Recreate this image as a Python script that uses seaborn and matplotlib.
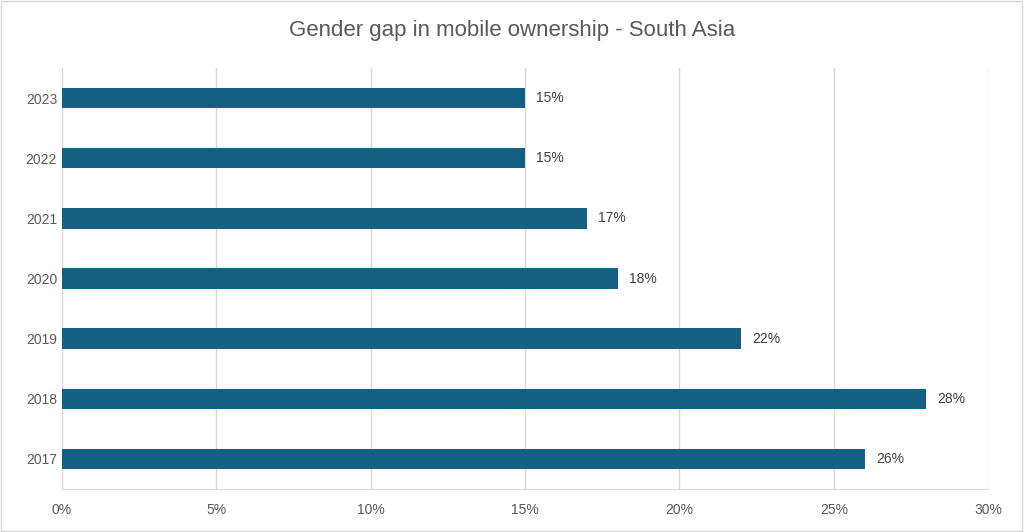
import matplotlib
matplotlib.use("Agg")
import matplotlib.pyplot as plt
import seaborn as sns
import pandas as pd

years = ["2023", "2022", "2021", "2020", "2019", "2018", "2017"]
gap = [15, 15, 17, 18, 22, 28, 26]
labels = ["15%", "15%", "17%", "18%", "22%", "28%", "26%"]

df = pd.DataFrame({"year": years, "gap": gap})
plt.rcParams["font.family"] = "Liberation Sans"
fig = plt.figure(figsize=(10.24, 5.32), dpi=100)
ax = fig.add_axes([0.0605, 0.081, 0.9045, 0.791])
sns.barplot(data=df, x="gap", y="year", color="#156082", width=0.34, saturation=1, ax=ax, zorder=3)
ax.set_xlim(0, 30)
ax.set_ylim(6.5, -0.5)
ax.set_xticks(range(0, 31, 5))
ax.set_xticklabels([f"{v}%" for v in range(0, 31, 5)])
ax.grid(axis="x", color="#D9D9D9", linewidth=1, zorder=0)
for s in ["top", "right", "left"]:
    ax.spines[s].set_visible(False)
ax.spines["bottom"].set_color("#D9D9D9")
ax.tick_params(length=0, colors="#595959", labelsize=10)
ax.tick_params(axis="x", pad=10)
ax.set_xlabel(""); ax.set_ylabel("")
for c in ax.containers:
    ax.bar_label(c, labels=labels, padding=8, color="#404040", fontsize=10)
fig.text(0.5, 0.943, "Gender gap in mobile ownership - South Asia", ha="center", va="center", fontsize=16, color="#595959")
fig.patches.append(plt.Rectangle((0.001, 0.002), 0.997, 0.996, transform=fig.transFigure, fill=False, edgecolor="#D9D9D9", linewidth=1))
fig.savefig("out.png", dpi=100, facecolor="white")
